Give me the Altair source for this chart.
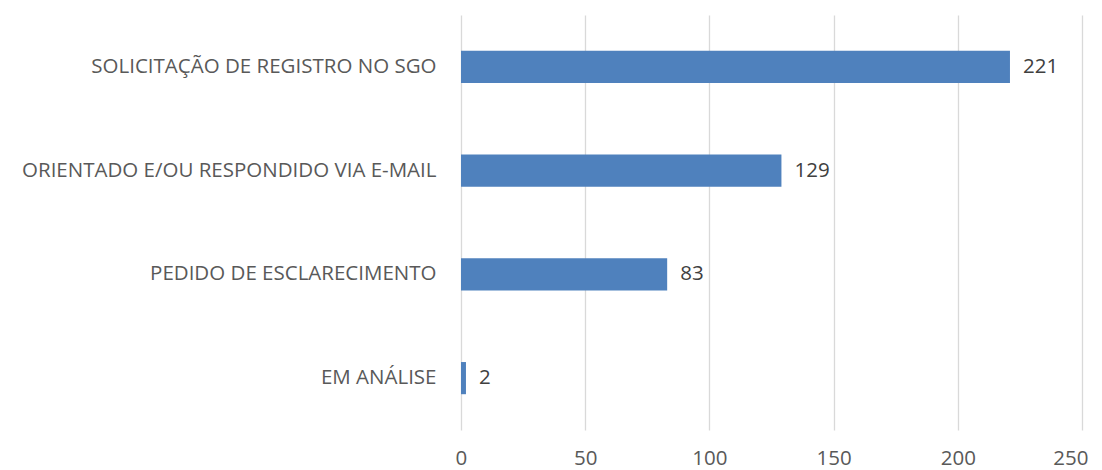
import altair as alt
import pandas as pd

categories = ["SOLICITAÇÃO DE REGISTRO NO SGO", "ORIENTADO E/OU RESPONDIDO VIA E-MAIL",
              "PEDIDO DE ESCLARECIMENTO", "EM ANÁLISE"]
values = [221, 129, 83, 2]

df = pd.DataFrame({"cat": categories, "val": values})

FONT = "Open Sans"
FS = 20.5

y = alt.Y("cat:N", sort=categories, title=None,
          scale=alt.Scale(paddingInner=0.69, paddingOuter=0.345),
          axis=alt.Axis(domain=False, ticks=False, labelPadding=25, labelFontSize=FS,
                        labelColor="#595959", labelFont=FONT, labelLimit=800, grid=False))
x = alt.X("val:Q", title=None, scale=alt.Scale(domain=[0, 250], nice=False),
          axis=alt.Axis(values=[0, 50, 100, 150, 200, 250], domain=False, ticks=False,
                        labelPadding=18, labelFontSize=FS, labelColor="#595959",
                        labelFlush=True, labelFlushOffset=6, labelOverlap=False,
                        labelFont=FONT, gridColor="#d9d9d9", gridWidth=1.3))

bars = alt.Chart(df).mark_bar(color="#4f81bd").encode(x=x, y=y)
labels = alt.Chart(df).mark_text(align="left", baseline="middle", dx=13, fontSize=FS,
                                 color="#404040", font=FONT).encode(
    x="val:Q", y=alt.Y("cat:N", sort=categories), text="val:Q")

chart = (bars + labels).properties(
    width=621, height=415,
    autosize=alt.AutoSizeParams(type="none"),
    padding={"left": 453, "top": 7, "right": 12, "bottom": 40},
    background="white",
).configure_view(stroke=None)

chart.save("out.html", embed_options={"renderer": "svg", "actions": False})
